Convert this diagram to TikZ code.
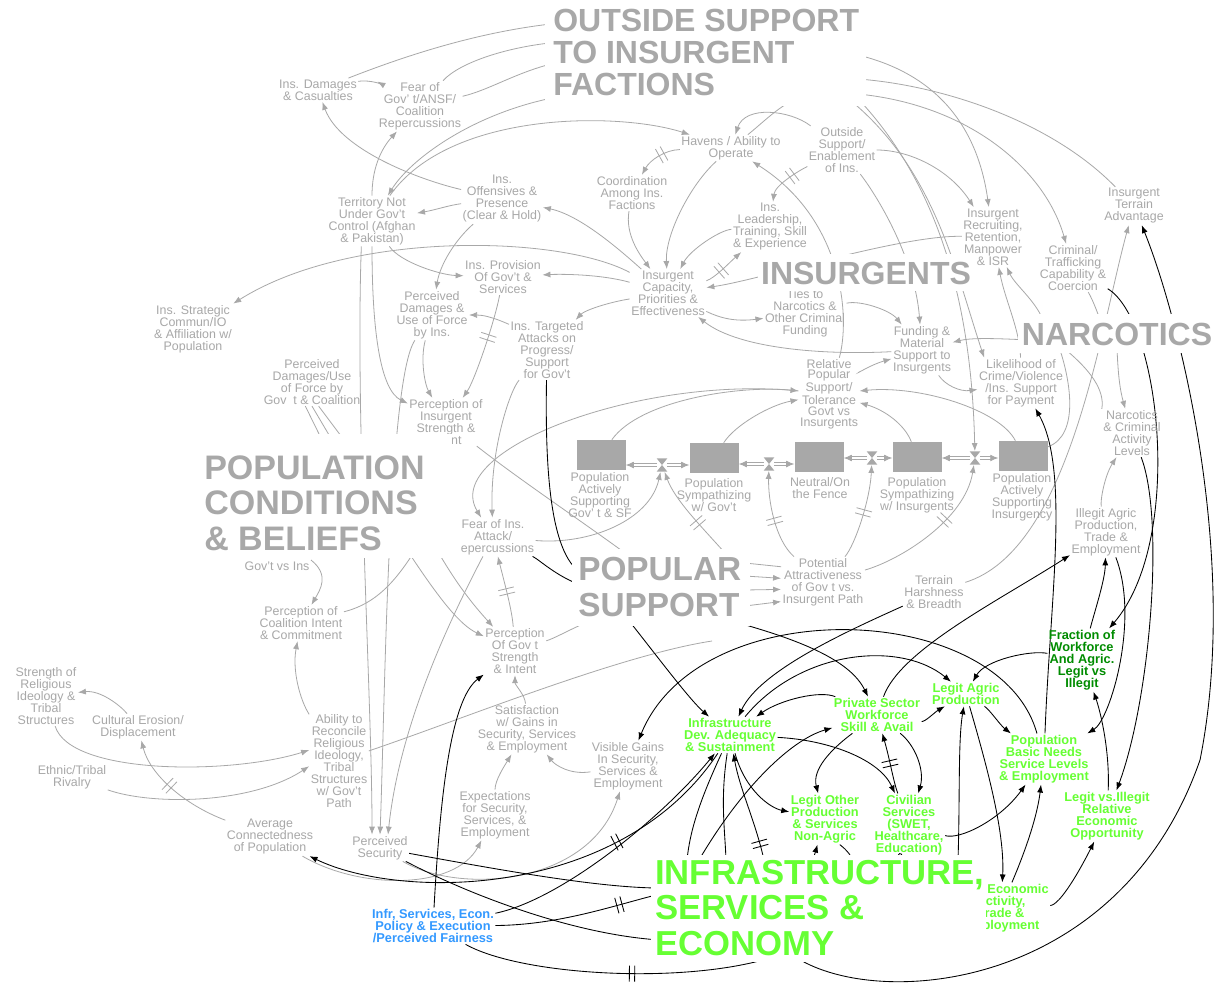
\documentclass[tikz,border=0pt]{standalone}
\usepackage{fontspec}
\setmainfont{Liberation Sans}
\usetikzlibrary{arrows.meta,decorations.markings,backgrounds}
\definecolor{gr}{RGB}{168,168,168}
\definecolor{grn}{RGB}{102,255,51}
\definecolor{dgrn}{RGB}{0,140,0}
\definecolor{blu}{RGB}{51,153,255}
\tikzset{
 lab/.style={font=\fontsize{9.3}{9}\selectfont, text=gr, align=center, inner sep=1pt},
 glab/.style={font=\bfseries\fontsize{9.6}{9}\selectfont, text=grn, align=center, inner sep=1pt},
 ttl/.style={font=\bfseries\fontsize{24}{24}\selectfont, text=gr, align=left, inner sep=0pt},
 ga/.style={draw=gr, line width=0.6pt, -{Latex[length=6pt,width=4.5pt]}},
 gl/.style={draw=gr, line width=0.6pt},
 ba/.style={draw=black, line width=0.65pt, -{Latex[length=6pt,width=4.5pt]}},
 bl/.style={draw=black, line width=0.65pt},
 stockbox/.style={fill=gr, draw=none, minimum width=36.75pt, minimum height=22.5pt, inner sep=0pt},
 valvebox/.style={inner sep=0pt, minimum width=8pt, minimum height=10pt, fill=white,
   path picture={\fill[gr] (path picture bounding box.north west) -- (path picture bounding box.north east) -- (path picture bounding box.south west) -- (path picture bounding box.south east) -- cycle;}},
 flow/.style={draw=gr, double=white, double distance=1.6pt, line width=0.5pt, {Latex[length=6pt,width=5pt]}-{Latex[length=6pt,width=5pt]}},
 dg/.style={postaction={decorate,decoration={markings,mark=at position #1 with {\draw[gr,line width=0.6pt,-] (-2pt,-6pt)--(-2pt,6pt) (2pt,-6pt)--(2pt,6pt);}}}},
 db/.style={postaction={decorate,decoration={markings,mark=at position #1 with {\draw[black,line width=0.65pt,-] (-2pt,-6pt)--(-2pt,6pt) (2pt,-6pt)--(2pt,6pt);}}}},
}
\begin{document}
\begin{tikzpicture}[x=0.75pt,y=-0.75pt]
\useasboundingbox (0,0) rectangle (1219,984);

% ---------- gray labels ----------
\node[lab] (insdam) at (318,90) {Ins. Damages\\\& Casualties};
\node[lab] (fear) at (420,106) {Fear of\\Gov' t/ANSF/\\Coalition\\Repercussions};
\node[lab] (havens) at (731,148) {Havens / Ability to\\Operate};
\node[lab] (coord) at (632,193) {Coordination\\Among Ins.\\Factions};
\node[lab] (outside) at (842,150) {Outside\\Support/\\Enablement\\of Ins.};
\node[lab] (insoff) at (502,199) {Ins.\\Offensives \&\\Presence\\(Clear \& Hold)};
\node[lab] (territory) at (372,221) {Territory Not\\Under Gov't\\Control (Afghan\\\& Pakistan)};
\node[lab] (insleader) at (770,227) {Ins.\\Leadership,\\Training, Skill\\\& Experience};
\node[lab] (inscap) at (668,293) {Insurgent\\Capacity,\\Priorities \&\\Effectiveness};
\node[lab] (ties) at (805,313) {Ties to\\Narcotics \&\\Other Criminal\\Funding};
\node[lab] (recruit) at (993,237) {Insurgent\\Recruiting,\\Retention,\\Manpower\\\& ISR};
\node[lab] (terrainadv) at (1134,206) {Insurgent\\Terrain\\Advantage};
\node[lab] (criminal) at (1073,268) {Criminal/\\Trafficking\\Capability \&\\Coercion};
\node[lab] (funding) at (922,350) {Funding \&\\Material\\Support to\\Insurgents};
\node[lab] (likelihood) at (1021,383) {Likelihood of\\Crime/Violence\\/Ins. Support\\for Payment};
\node[lab] (narcact) at (1132,433) {Narcotics\\\& Criminal\\Activity\\Levels};
\node[lab] (insprov) at (503,277) {Ins. Provision\\Of Gov't \&\\Services};
\node[lab] (percdam) at (432,315) {Perceived\\Damages \&\\Use of Force\\by Ins.};
\node[lab] (instarget) at (547,350) {Ins. Targeted\\Attacks on\\Progress/\\Support\\for Gov't};
\node[lab] (insstrat) at (193,329) {Ins. Strategic\\Commun/IO\\\& Affiliation w/\\Population};
\node[lab] (percdamgov) at (312,382) {Perceived\\Damages/Use\\of Force by\\Gov~~t \& Coalition};
\node[lab] (percins) at (446,422) {Perception of\\Insurgent\\Strength \&\\Intent};
\node[lab, font=\fontsize{9.3}{8}\selectfont] (relpop) at (829,394) {Relative\\Popular\\Support/\\Tolerance\\Govt vs\\Insurgents};
\node[lab] (govtvsins) at (277,566) {Gov't vs Ins};
\node[lab] (fearins) at (493,537) {Fear of Ins.\\Attack/\\Repercussions};
\node[lab] (potential) at (823,582) {Potential\\Attractiveness\\of Gov t vs.\\Insurgent Path};
\node[lab] (terrain) at (934,592) {Terrain\\Harshness\\\& Breadth};
\node[lab] (illegit) at (1106,532) {Illegit Agric\\Production,\\Trade \&\\Employment};
\node[lab] (perccoal) at (301,623) {Perception of\\Coalition Intent\\\& Commitment};
\node[lab] (percgov) at (515,651) {Perception\\Of Gov t\\Strength\\\& Intent};
\node[lab] (strength) at (46,696) {Strength of\\Religious\\Ideology \&\\Tribal\\Structures};
\node[lab] (cultural) at (138,727) {Cultural Erosion/\\Displacement};
\node[lab] (ethnic) at (72,777) {Ethnic/Tribal\\Rivalry};
\node[lab] (ability) at (339,761) {Ability to\\Reconcile\\Religious\\Ideology,\\Tribal\\Structures\\w/ Gov't\\Path};
\node[lab] (satisf) at (527,729) {Satisfaction\\w/ Gains in\\Security, Services\\\& Employment};
\node[lab] (visible) at (628,766) {Visible Gains\\In Security,\\Services \&\\Employment};
\node[lab] (expect) at (495,815) {Expectations\\for Security,\\Services, \&\\Employment};
\node[lab] (average) at (270,837) {Average\\Connectedness\\of Population};
\node[lab] (perceived) at (380,848) {Perceived\\Security};

% ---------- stocks & valves ----------
\node[stockbox] (s1) at (601,455) {};
\node[stockbox] (s2) at (714,458) {};
\node[stockbox] (s3) at (819,457) {};
\node[stockbox] (s4) at (917,457) {};
\node[stockbox] (s5) at (1023,456) {};
\node[valvebox] (v1) at (662,465) {};
\node[valvebox] (v2) at (769,464) {};
\node[valvebox] (v3) at (872,458) {};
\node[valvebox] (v4) at (975,458) {};
\node[lab] (l1) at (600,495) {Population\\Actively\\Supporting\\Gov' t \& SF};
\node[lab] (l2) at (714,495) {Population\\Sympathizing\\w/ Gov't};
\node[lab] (l3) at (820,488) {Neutral/On\\the Fence};
\node[lab] (l4) at (917,495) {Population\\Sympathizing\\w/ Insurgents};
\node[lab] (l5) at (1022,497) {Population\\Actively\\Supporting\\Insurgency};

% ---------- green labels ----------
\node[glab] (infr) at (730,735) {Infrastructure\\Dev. Adequacy\\\& Sustainment};
\node[glab] (private) at (877,715) {Private Sector\\Workforce\\Skill \& Avail};
\node[glab] (legitagric) at (966,694) {Legit Agric\\Production};
\node[glab, text=dgrn] (fraction) at (1082,660) {Fraction of\\Workforce\\And Agric.\\Legit vs\\Illegit};
\node[glab] (popbasic) at (1044,759) {Population\\Basic Needs\\Service Levels\\\& Employment};
\node[glab] (legitother) at (825,819) {Legit Other\\Production\\\& Services\\Non-Agric};
\node[glab] (civilian) at (909,825) {Civilian\\Services\\(SWET,\\Healthcare,\\Education)};
\node[glab] (legitvs) at (1107,816) {Legit vs.Illegit\\Relative\\Economic\\Opportunity};
\node[glab] (econ) at (1001,908) {\hphantom{Legit }Economic\\Activity,\\Trade \&\\Employment};
\node[glab, text=blu] (blue) at (433,926) {Infr, Services, Econ.\\Policy \& Execution\\/Perceived Fairness};

% ---------- titles (white boxes cover lines behind) ----------
\fill[white] (545,0) rectangle (866,106);
\node[ttl, anchor=west] (otitle) at (553,52) {OUTSIDE SUPPORT\\TO INSURGENT\\FACTIONS};
\fill[white] (758,254) rectangle (975,291);
\node[ttl] (institle) at (866,273) {INSURGENTS};
\fill[white] (1018,314) rectangle (1215,353);
\node[ttl] (narctitle) at (1117,334) {NARCOTICS};
\fill[white] (198,434) rectangle (452,558);
\fill[white] (440,541) rectangle (461,558);
\node[ttl, font=\bfseries\fontsize{25.5}{26.6}\selectfont, anchor=west] (popctitle) at (204,503) {POPULATION\\CONDITIONS\\\& BELIEFS};
\fill[white] (572,549) rectangle (750,626);
\node[ttl, font=\bfseries\fontsize{25}{27}\selectfont, anchor=west] (poptitle) at (578,587) {POPULAR\\SUPPORT};
\fill[white] (651,855) rectangle (986,962);
\node[ttl, font=\bfseries\fontsize{26}{26.6}\selectfont, text=grn, anchor=west] (inftitle) at (655,908) {INFRASTRUCTURE,\\SERVICES \&\\ECONOMY};

% ---------- named free ends (inside title boxes) ----------
\coordinate (ot1) at (560,23); \coordinate (ot2) at (560,42); \coordinate (ot3) at (560,62);
\coordinate (ot4) at (552,98); \coordinate (ot5) at (790,102); \coordinate (ot6) at (858,55);
\coordinate (ot7) at (858,79); \coordinate (ot8) at (858,94); \coordinate (ot9) at (850,100);
\coordinate (ot10) at (862,103);
\coordinate (nc1) at (1100,320); \coordinate (nc2) at (1028,340); \coordinate (nc3) at (1043,320);
\coordinate (nc4) at (1117,348); \coordinate (nc5) at (1060,350); \coordinate (nc6) at (1066,350);
\coordinate (pc1) at (322,440); \coordinate (pc1b) at (332,440); \coordinate (pc1c) at (344,440);
\coordinate (pc2) at (407,550); \coordinate (pc3) at (437,550); \coordinate (pc4) at (414,552);
\coordinate (pp1) at (625,553); \coordinate (pp2) at (590,588); \coordinate (pp3) at (585,623);
\coordinate (pp4a) at (745,563); \coordinate (pp4b) at (745,576); \coordinate (pp4c) at (745,590);
\coordinate (pp4d) at (745,606); \coordinate (pp5) at (725,553); \coordinate (pp6) at (712,641);
\coordinate (pp7) at (630,622); \coordinate (pp8) at (735,622); \coordinate (pp9) at (585,575);
\coordinate (it1) at (958,860); \coordinate (it2) at (813,860); \coordinate (it3) at (853,860);
\coordinate (it4) at (903,860); \coordinate (it5) at (764,860); \coordinate (it6) at (687,860);
\coordinate (it7) at (726,860); \coordinate (it8) at (699,860); \coordinate (it9) at (660,888);
\coordinate (it10) at (660,940); \coordinate (it11) at (660,894); \coordinate (it12) at (770,958);
\coordinate (it13) at (797,958); \coordinate (rp1) at (1200,760);

\begin{pgfonlayer}{background}
\fill[white] (0,0) rectangle (1219,984);
% ---- gray connectors ----
\draw[gl] (insdam) .. controls (420,50) and (490,30) .. (ot1);
\draw[gl] (fear) .. controls (460,62) and (510,46) .. (ot2);
\draw[gl] (fear) .. controls (490,90) and (520,70) .. (ot3);
\draw[ga] (ot4) .. controls (470,115) and (410,160) .. (territory);
\draw[ga] (territory) .. controls (450,110) and (620,112) .. (havens);
\draw[ga] (insdam) .. controls (365,80) and (378,82) .. (fear);
\draw[ga] (insoff) .. controls (420,180) and (340,150) .. (insdam);
\draw[ga] (territory) .. controls (372,170) and (380,150) .. (fear);
\draw[ga] (insoff) .. controls (450,205) and (435,210) .. (territory);
\draw[ga] (inscap) .. controls (620,250) and (580,215) .. (insoff);
\draw[ga] (insoff) .. controls (455,240) and (440,265) .. (percdam);
\draw[ga] (territory) .. controls (400,262) and (440,275) .. (insprov);
\draw[ga] (territory.south) .. controls (372,330) and (380,390) .. (percins);
\draw[ga] ([xshift=-8pt]territory.south) .. controls (355,420) and (372,700) .. ([xshift=-6pt]perceived.north);
\draw[ga] (percdam) .. controls (388,380) and (385,700) .. (perceived.north);
\draw[ga] (fearins) .. controls (455,610) and (400,720) .. ([xshift=6pt]perceived.north);
\draw[ga, dg=0.4] (havens) .. controls (665,150) and (650,160) .. (coord);
\draw[ga] (outside) .. controls (790,110) and (745,105) .. (havens);
\draw[gl] (havens) .. controls (760,125) and (775,110) .. (ot5);
\draw[ga, dg=0.35] (outside) .. controls (800,170) and (775,185) .. (insleader);
\draw[ga] (relpop) .. controls (850,320) and (845,220) .. (havens);
\draw[ga] (havens) .. controls (690,185) and (665,235) .. (inscap);
\draw[ga] (coord) .. controls (625,235) and (640,255) .. (inscap);
\draw[ga] (insleader) .. controls (720,230) and (690,250) .. (inscap);
\draw[ga, dg=0.4] (inscap) .. controls (715,278) and (730,262) .. (insleader);
\draw[ga] (recruit) .. controls (900,235) and (760,280) .. (inscap);
\draw[ga] (inscap) .. controls (720,318) and (735,322) .. (ties);
\draw[ga] (funding) .. controls (830,355) and (740,350) .. (inscap);
\draw[ga] (ties) .. controls (860,300) and (890,310) .. (funding);
\draw[ga] (outside) .. controls (880,200) and (915,260) .. (funding);
\draw[ga] (ot9) .. controls (935,170) and (955,270) .. ([xshift=5pt]likelihood.north west);
\draw[ga] (ot10) .. controls (950,200) and (972,330) .. (v4);
\draw[ga] (ot6) .. controls (940,75) and (978,130) .. (recruit);
\draw[gl] (terrainadv) .. controls (1050,120) and (940,85) .. (ot7);
\draw[ga] (ot8) .. controls (970,105) and (1045,170) .. (criminal);
\draw[ga] (outside) .. controls (910,150) and (950,170) .. (recruit);
\draw[gl] (criminal) .. controls (1090,295) and (1095,305) .. (nc1);
\draw[ga] (nc2) .. controls (990,338) and (970,338) .. (funding);
\draw[ga] (nc3) .. controls (1035,300) and (1015,285) .. (recruit);
\draw[ga] (likelihood) .. controls (1020,330) and (1005,300) .. (recruit);
\draw[ga] (nc4) .. controls (1118,375) and (1120,390) .. (narcact);
\draw[gl] (s5) .. controls (1080,435) and (1070,380) .. (nc5);
\draw[gl] (nc6) .. controls (1090,370) and (1105,390) .. (narcact.north west);
\draw[ga] (illegit) .. controls (1100,500) and (1105,475) .. (narcact);
\draw[ga] (terrain) .. controls (1070,550) and (1100,330) .. (terrainadv);
\draw[ga] (s1) .. controls (640,400) and (740,385) .. (relpop);
\draw[ga] (s2) .. controls (735,425) and (770,405) .. (relpop);
\draw[ga] (s4) .. controls (905,425) and (885,410) .. (relpop);
\draw[ga] (s5) .. controls (1000,410) and (920,385) .. (relpop);
\draw[ga] (relpop) .. controls (855,375) and (870,365) .. (funding);
\draw[ga] (funding) .. controls (945,385) and (960,392) .. (likelihood);
\draw[ga] (relpop) .. controls (640,375) and (440,450) .. (fearins);
\draw[ga] (instarget) .. controls (510,390) and (490,450) .. (fearins);
\draw[gl] (percins) .. controls (520,480) and (580,520) .. (pp1);
\draw[ga] (fearins) .. controls (590,545) and (650,520) .. (v1);
\draw[ga, dg=0.5] (percgov) .. controls (512,610) and (505,585) .. (fearins);
\draw[gl] (percgov) .. controls (555,638) and (565,632) .. (pp3);
\draw[gl] (pp4a) -- (potential.160);
\draw[ga] (pp4b) -- (potential.175);
\draw[ga] (pp4c) -- (potential.190);
\draw[ga] (pp4d) -- (potential.205);
\draw[ga, dg=0.4] (pp5) .. controls (700,525) and (675,500) .. (v1);
\draw[ga, dg=0.45] (potential) .. controls (775,540) and (768,500) .. (v2);
\draw[ga, dg=0.5] (potential) .. controls (855,545) and (870,500) .. (v3);
\draw[ga, dg=0.6] (potential) .. controls (900,560) and (965,520) .. (v4);
\draw[ga] (inscap) .. controls (560,235) and (350,230) .. (insstrat);
\draw[ga] (inscap) .. controls (600,274) and (560,274) .. (insprov);
\draw[ga] (inscap) .. controls (610,302) and (585,310) .. (instarget);
\draw[ga] (instarget) .. controls (510,325) and (490,315) .. (percdam);
\draw[ga, dg=0.4] (insprov) .. controls (495,320) and (475,380) .. (percins);
\draw[ga] (percdam) .. controls (420,360) and (425,385) .. (percins);
\draw[gl] ([xshift=-5pt]percdamgov.south) -- (pc1);
\draw[gl] (percdamgov.south) -- (pc1b);
\draw[gl] ([xshift=5pt]percdamgov.south) -- (pc1c);
\draw[ga] (pc2) .. controls (440,600) and (460,625) .. (percgov);
\draw[ga] (pc3) .. controls (460,590) and (478,610) .. (percgov);
\draw[gl] (pc4) .. controls (390,590) and (370,605) .. (perccoal);
\draw[ga] (govtvsins.north east) .. controls (330,575) and (320,590) .. (perccoal);
\draw[ga] (ability) .. controls (300,700) and (292,670) .. (perccoal);
\draw[ga, dg=0.55] (average) .. controls (185,805) and (150,775) .. (cultural);
\draw[ga] (cultural) .. controls (120,705) and (100,690) .. (strength);
\draw[ga] (strength) .. controls (70,775) and (230,775) .. (ability.160);
\draw[ga] (ethnic) .. controls (150,805) and (250,805) .. (ability.190);
\draw[ga] (satisf) .. controls (525,695) and (515,685) .. (percgov);
\draw[ga] (expect) .. controls (495,780) and (505,765) .. (satisf);
\draw[ga] (visible) .. controls (570,775) and (555,765) .. (satisf);
\draw[ga] (average) .. controls (360,890) and (455,890) .. (expect);
\draw[ga] (perceived) .. controls (460,895) and (590,885) .. (visible);
\draw[gl] (ability) .. controls (460,720) and (620,655) .. (pp6);
% stock flows
\draw[flow] (s1.east |- v1) -- (s2.west |- v1);
\draw[flow] (s2.east |- v2) -- (s3.west |- v2);
\draw[flow] (s3.east |- v3) -- (s4.west |- v3);
\draw[flow] (s4.east |- v4) -- (s5.west |- v4);
% ---- black connectors ----
\draw[ba] (pp7) .. controls (660,660) and (690,700) .. (infr);
\draw[ba] (pp8) .. controls (800,640) and (850,660) .. (private);
\draw[bl] (instarget) .. controls (545,470) and (550,560) .. (pp9);
\draw[bl] (fearins) .. controls (540,560) and (560,580) .. (pp2);
\draw[ba] (popbasic) .. controls (1000,600) and (700,590) .. (visible);
\draw[ba] (popbasic) .. controls (1050,600) and (1070,470) .. (likelihood);
\draw[ba] (illegit) .. controls (1140,620) and (1110,720) .. (popbasic);
\draw[ba] (fraction) .. controls (1095,610) and (1105,580) .. (illegit);
\draw[ba] (criminal) .. controls (1160,320) and (1185,540) .. (fraction);
\draw[ba] (narcact) .. controls (1165,520) and (1150,700) .. (legitvs);
\draw[ba] (fraction) .. controls (1030,650) and (985,660) .. (legitagric);
\draw[ba] (legitvs) .. controls (1110,750) and (1100,710) .. (fraction);
\draw[ba] (private) .. controls (900,650) and (1000,600) .. (illegit);
\draw[ba] (terrain) .. controls (850,630) and (760,670) .. (infr);
\draw[ba] (private) .. controls (925,722) and (935,712) .. (legitagric);
\draw[ba] (infr) .. controls (800,650) and (900,640) .. (legitagric);
\draw[ba] (private) .. controls (820,690) and (780,700) .. (infr);
\draw[ba] (infr) .. controls (830,740) and (880,760) .. (civilian);
\draw[ba] (infr) .. controls (745,790) and (770,808) .. (legitother);
\draw[ba] (private) .. controls (830,750) and (812,770) .. (legitother);
\draw[ba] (private) .. controls (915,745) and (925,770) .. (civilian);
\draw[ba, db=0.5] (civilian) .. controls (893,780) and (890,760) .. (private);
\draw[ba] (legitagric) .. controls (985,760) and (1005,830) .. (econ);
\draw[ba] (econ) .. controls (1030,840) and (1038,810) .. (popbasic);
\draw[ba] (civilian) .. controls (960,840) and (1000,820) .. (popbasic);
\draw[ba] (legitagric) .. controls (990,710) and (1000,725) .. (popbasic);
\draw[ba] (econ) .. controls (1060,905) and (1080,870) .. (legitvs);
\draw[ba] (it1) .. controls (960,800) and (958,740) .. (legitagric);
\draw[ba] (it2) -- (legitother);
\draw[bl] (legitother) .. controls (840,845) and (848,850) .. (it3);
\draw[bl] (civilian) .. controls (900,850) and (903,855) .. (it4);
\draw[ba, db=0.15] (it5) .. controls (755,820) and (740,790) .. (infr);
\draw[bl] (infr) .. controls (700,800) and (690,830) .. (it6);
\draw[bl] (infr) .. controls (720,800) and (725,830) .. (it7);
\draw[ba] (it8) .. controls (740,790) and (790,740) .. (private);
\draw[ba] (blue) .. controls (560,900) and (660,820) .. (infr);
\draw[ba, db=0.3] (infr) .. controls (620,900) and (400,900) .. (average);
\draw[bl] (perceived) .. controls (500,870) and (600,888) .. (it9);
\draw[bl] (perceived) .. controls (480,900) and (580,935) .. (it10);
\draw[bl, db=0.75] (blue) .. controls (560,925) and (615,905) .. (it11);
\draw[ba] (blue) .. controls (440,800) and (450,700) .. (percgov);
\draw[bl, db=0.55] (blue) .. controls (520,975) and (680,985) .. (it12);
\draw[ba] (it13) .. controls (880,1010) and (1120,990) .. (rp1) .. controls (1240,560) and (1180,320) .. (terrainadv);
\end{pgfonlayer}
\end{tikzpicture}
\end{document}
